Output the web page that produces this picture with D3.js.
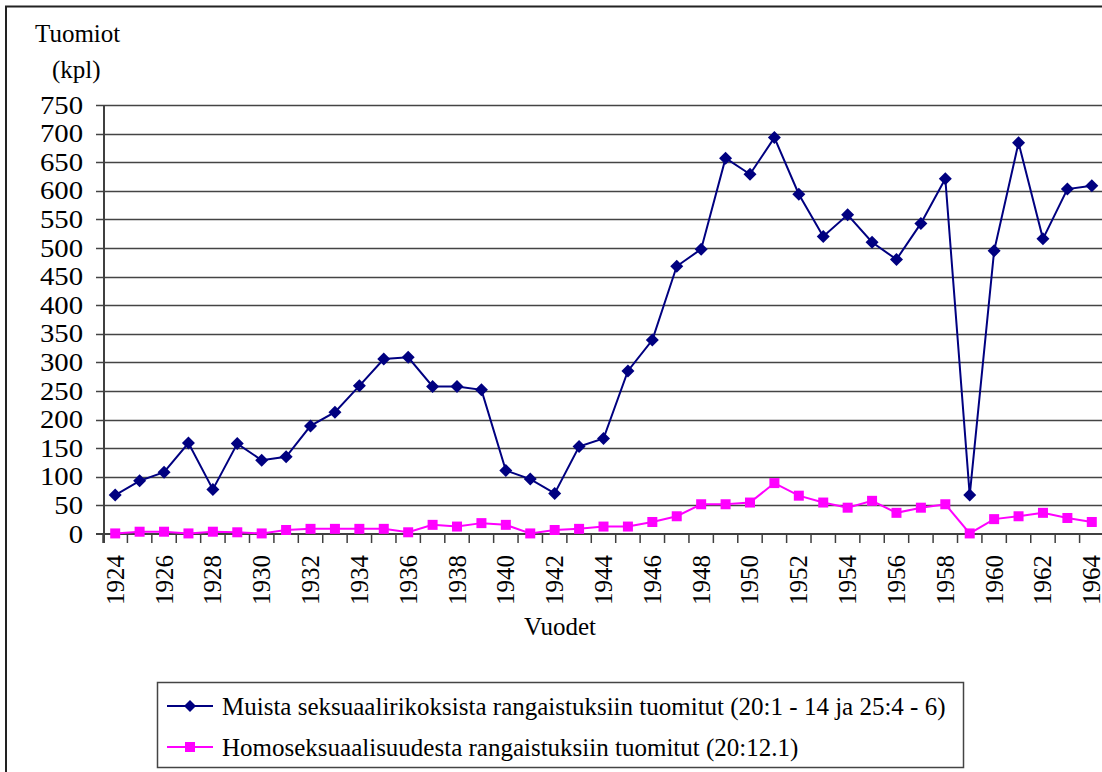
<!DOCTYPE html>
<html>
<head>
<meta charset="utf-8">
<script src="https://d3js.org/d3.v7.min.js"></script>
<style>
  body { margin: 0; background: #fff; }
</style>
</head>
<body>
<script>
// data
const years = d3.range(1924, 1965);
const muut = [68, 93, 108, 159, 78, 158, 129, 135, 189, 213, 259, 306, 309, 258, 258, 252,
  111, 96, 71, 153, 167, 285, 339, 468, 498, 657, 629, 693, 594, 520, 558, 510, 480, 543,
  621, 68, 495, 684, 516, 603, 609];
const homo = [1, 4, 4, 1, 4, 3, 1, 7, 9, 9, 9, 9, 3, 16, 13, 19, 16, 1, 7, 9, 13, 13,
  21, 31, 52, 52, 55, 89, 67, 55, 46, 58, 37, 46, 52, 1, 26, 31, 37, 28, 21];
const yTicks = d3.range(0, 751, 50);
const seriesNames = [
  "Muista seksuaalirikoksista rangaistuksiin tuomitut (20:1 - 14 ja 25:4 - 6)",
  "Homoseksuaalisuudesta rangaistuksiin tuomitut (20:12.1)"
];

const W = 1102, H = 772;
const FONT = "Liberation Serif";
const svg = d3.select("body").append("svg").attr("width", W).attr("height", H);

const x = d3.scaleBand().domain(years).range([103, 1104]);
const y = d3.scaleLinear().domain([0, 750]).range([534, 105]);
const cx = d => x(d) + x.bandwidth() / 2;

// outer frame (only top and left edges are visible)
svg.append("path").attr("d", "M6,772V6.5H1102").attr("fill", "none")
  .attr("stroke", "#222").attr("stroke-width", 2);

// gridlines
svg.append("g").selectAll("line").data(yTicks.filter(v => v > 0)).join("line")
  .attr("x1", 96).attr("x2", W)
  .attr("y1", d => Math.round(y(d)) + 0.5).attr("y2", d => Math.round(y(d)) + 0.5)
  .attr("stroke", "#444").attr("stroke-width", 1.5);

// y axis line + zero line
svg.append("line").attr("x1", 104).attr("x2", 104).attr("y1", 105).attr("y2", 543)
  .attr("stroke", "#404040").attr("stroke-width", 2);
svg.append("line").attr("x1", 96).attr("x2", W).attr("y1", 534).attr("y2", 534)
  .attr("stroke", "#404040").attr("stroke-width", 2);

// y labels (slightly wide, as in the source)
svg.append("g").selectAll("text").data(yTicks).join("text")
  .attr("transform", d => `translate(83,${y(d)}) scale(1.15,1)`)
  .attr("text-anchor", "end").attr("dy", "0.34em")
  .attr("font-family", FONT).attr("font-size", 25).text(d => d);

// x ticks at category boundaries
svg.append("g").selectAll("line").data(years.concat([1965])).join("line")
  .attr("x1", d => d === 1965 ? 1104 : x(d)).attr("x2", d => d === 1965 ? 1104 : x(d))
  .attr("y1", 534).attr("y2", 543)
  .attr("stroke", "#404040").attr("stroke-width", 1.5);

// year labels, every second year, rotated
svg.append("g").selectAll("text").data(years.filter(d => d % 2 === 0)).join("text")
  .attr("transform", d => `translate(${cx(d)},555) rotate(-90)`)
  .attr("text-anchor", "end").attr("dy", "0.34em")
  .attr("font-family", FONT).attr("font-size", 25).text(d => d);

// axis titles
svg.append("text").attr("x", 35).attr("y", 42).attr("font-family", FONT)
  .attr("font-size", 25).text("Tuomiot");
svg.append("text").attr("x", 52).attr("y", 78).attr("font-family", FONT)
  .attr("font-size", 25).text("(kpl)");
svg.append("text").attr("x", 560).attr("y", 635).attr("text-anchor", "middle")
  .attr("font-family", FONT).attr("font-size", 25).text("Vuodet");

const navy = "#000080", pink = "#ff00ff";
const line = d3.line().x((d, i) => cx(years[i])).y(d => y(d));

svg.append("path").datum(muut).attr("d", line).attr("fill", "none")
  .attr("stroke", navy).attr("stroke-width", 2);
svg.append("path").datum(homo).attr("d", line).attr("fill", "none")
  .attr("stroke", pink).attr("stroke-width", 2);

const diamond = s => `M0,${-s}L${s},0L0,${s}L${-s},0Z`;

svg.append("g").selectAll("path").data(muut).join("path")
  .attr("transform", (d, i) => `translate(${cx(years[i])},${y(d)})`)
  .attr("d", diamond(6.5)).attr("fill", navy);
svg.append("g").selectAll("rect").data(homo).join("rect")
  .attr("x", (d, i) => cx(years[i]) - 5).attr("y", d => y(d) - 5)
  .attr("width", 10).attr("height", 10).attr("fill", pink);

// legend
const lg = svg.append("g");
lg.append("rect").attr("x", 157.5).attr("y", 682.5).attr("width", 806).attr("height", 85)
  .attr("fill", "#fff").attr("stroke", "#444").attr("stroke-width", 1.5);
const rows = [
  { name: seriesNames[0], color: navy, y: 706, shape: "diamond" },
  { name: seriesNames[1], color: pink, y: 747, shape: "square" }
];
rows.forEach(r => {
  lg.append("line").attr("x1", 167).attr("x2", 213).attr("y1", r.y).attr("y2", r.y)
    .attr("stroke", r.color).attr("stroke-width", 2);
  if (r.shape === "diamond") {
    lg.append("path").attr("transform", `translate(190,${r.y})`).attr("d", diamond(6)).attr("fill", r.color);
  } else {
    lg.append("rect").attr("x", 185).attr("y", r.y - 5).attr("width", 10).attr("height", 10).attr("fill", r.color);
  }
  lg.append("text").attr("x", 222).attr("y", r.y).attr("dy", "0.34em")
    .attr("font-family", FONT).attr("font-size", 25).text(r.name);
});
</script>
</body>
</html>
